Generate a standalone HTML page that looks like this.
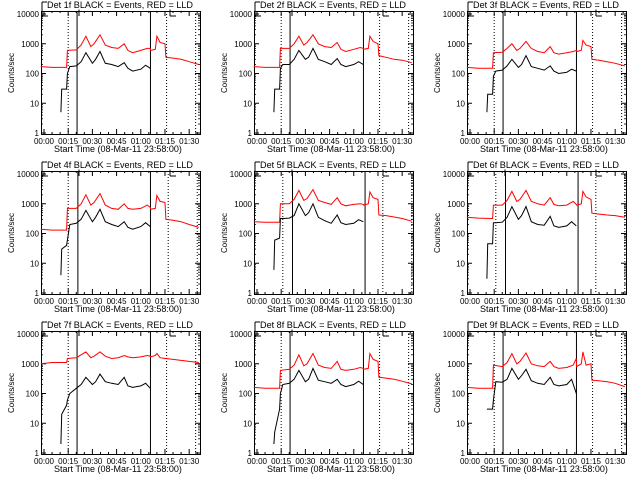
<!DOCTYPE html>
<html><head><meta charset="utf-8"><style>
html,body{margin:0;padding:0;background:#fff;}
svg{display:block;font-family:"Liberation Sans",sans-serif;}
</style></head><body>
<svg id="chart" width="640" height="480" viewBox="0 0 640 480" xmlns="http://www.w3.org/2000/svg"></svg>
<script>
const detectorNames = ["1f","2f","3f","4f","5f","6f","7f","8f","9f"];
const redTimes = [-2,5,14,14.5,20,23,26,29,31,34.7,38,42,46,49.7,52,55,60,64,65.9,66.1,69,70,72,75,75.6,80,85,90,96];
const blackTimes = [10.5,11,14,14.5,16,20,23,26,30,32,34.7,38,42,46,49.7,52,55,60,63,65.9];
const redValues = [
 [170,160,160,600,620,900,1800,800,1000,2000,900,750,700,1000,600,500,600,700,700,600,650,1800,1100,1000,350,330,300,250,200],
 [170,160,160,700,700,1000,1800,900,1100,2000,1000,800,750,1100,650,550,650,750,700,650,700,1800,1200,1000,400,350,300,280,230],
 [160,150,150,500,520,700,1000,600,700,1200,700,550,500,800,500,450,500,550,600,550,600,1300,900,800,300,280,250,220,180],
 [140,130,130,700,700,1000,2000,900,1100,2200,900,700,650,1000,700,650,700,900,750,650,700,1900,1200,1100,300,280,250,200,160],
 [250,240,240,1000,1000,1400,2800,1300,1500,3000,1300,1100,950,1600,1000,850,950,1000,950,900,1000,2500,1600,1400,420,400,360,320,260],
 [350,330,320,900,900,1300,2600,1200,1400,2800,1200,1000,900,1600,950,850,900,1200,950,900,1000,2600,1700,1400,480,450,420,400,350],
 [1000,1100,1100,1500,1600,2000,2500,1600,1800,2500,1800,1500,1600,1900,1700,1600,1700,1900,1800,1700,1900,2200,1600,1500,1500,1400,1300,1200,1100],
 [160,150,150,600,650,900,2000,850,1000,2200,900,750,700,1200,650,600,650,750,700,650,700,2200,1400,1200,350,330,300,260,210],
 [160,150,150,900,800,1100,2200,1000,1200,2300,1000,850,800,1200,800,700,750,900,1500,800,1000,2500,900,1000,280,270,250,220,170]
];
const blackValues = [
 [5,30,30,100,170,180,250,500,220,300,550,220,200,170,230,150,120,140,190,150],
 [5,30,30,150,200,200,300,600,300,350,700,300,250,200,320,200,170,200,250,200],
 [5,20,20,80,120,130,180,300,160,200,400,170,150,130,180,120,100,110,140,120],
 [4,30,40,60,200,220,300,600,250,350,650,250,200,170,250,160,140,170,230,170],
 [6,60,70,320,320,330,400,1000,400,500,1000,350,270,220,420,230,200,220,290,250],
 [3,45,45,230,230,240,350,800,300,400,800,250,200,190,380,180,160,180,250,180],
 [2,20,40,60,100,150,200,350,200,250,450,250,220,200,350,180,160,180,220,150],
 [2,5,30,100,200,220,300,600,250,300,700,280,250,220,300,200,170,200,260,200],
 [30,30,30,60,250,240,300,700,300,400,650,270,220,200,350,200,180,200,300,100]
];
const dottedLines = [[15,76,94],[15,76,94],[15,76,94],[15,77,95],[16,78,96],[16,78,96],[15,76,94],[15,76,94],[15,76,94]];
const solidLines = [[20.5,66],[20.5,66],[20.5,66],[21,66],[22,67],[22,67],[20.5,66],[20.5,66],[20.5,66]];
const yTickValues = [1,10,100,1000,10000];
const yTickLabels = ["1","10","100","1000","10000"];
const xTickMinutes = [0,15,30,45,60,75,90];
const xTickLabels = ["00:00","00:15","00:30","00:45","01:00","01:15","01:30"];

const NS = "http://www.w3.org/2000/svg";
const svg = document.getElementById("chart");
function mk(tag, attrs, parent){const e=document.createElementNS(NS,tag);for(const k in attrs)e.setAttribute(k,attrs[k]);(parent||svg).appendChild(e);return e;}

detectorNames.forEach((det, p) => {
  const ox = (p%3)*213, oy = Math.floor(p/3)*160;
  const L=ox+41, R=ox+200, T=oy+11, B=oy+134;
  const xs = t => ox + 44 + t*1.613;
  const ys = v => oy + 133 - Math.log10(v)*29.75;
  const g = mk("g", {});
  
  

  const box = mk("rect",{x:L+0.5,y:T+0.5,width:R-L,height:B-T,fill:"none",stroke:"#000","stroke-width":1},g);
  
  

  for(let d=0; d<4; d++){
    for(let m=2;m<10;m++){
      const y=ys(m*Math.pow(10,d));
      mk("line",{x1:L,x2:L+2,y1:y,y2:y,stroke:"#000","stroke-width":0.8},g);
      mk("line",{x1:R,x2:R-2,y1:y,y2:y,stroke:"#000","stroke-width":0.8},g);
    }
  }
  yTickValues.forEach((v,i)=>{
    const y=ys(v);
    mk("line",{x1:L,x2:L+5,y1:y,y2:y,stroke:"#000"},g);
    mk("line",{x1:R,x2:R-5,y1:y,y2:y,stroke:"#000"},g);
    const t=mk("text",{x:L-2,y:y+3,"font-size":8,"text-anchor":"end"},g);
    t.textContent=yTickLabels[i];
    
    
  });
  for(let m=0; m<=95; m+=5){
    const x=xs(m); const major = m%15===0;
    mk("line",{x1:x,x2:x,y1:B,y2:B-(major?5:2),stroke:"#000"},g);
    mk("line",{x1:x,x2:x,y1:T,y2:T+(major?5:2),stroke:"#000"},g);
  }
  xTickMinutes.forEach((m,i)=>{
    const t=mk("text",{x:xs(m),y:B+10,"font-size":8,"text-anchor":"middle"},g);
    t.textContent=xTickLabels[i];
    
    
  });
  const xt=mk("text",{x:ox+118,y:B+18,"font-size":9,"text-anchor":"middle"},g);
  xt.textContent="Start Time (08-Mar-11 23:58:00)";
  
  
  const yt=mk("text",{x:ox+14,y:oy+73,"font-size":8,"text-anchor":"middle",transform:`rotate(-90 ${ox+14} ${oy+73})`},g);
  yt.textContent="Counts/sec";
  
  
  // bracket marks
  mk("line",{x1:ox+42,x2:ox+42,y1:oy+2,y2:oy+16,stroke:"#000"},g);
  mk("line",{x1:ox+42,x2:ox+47,y1:oy+2,y2:oy+2,stroke:"#000"},g);
  mk("line",{x1:ox+42,x2:ox+48,y1:oy+16,y2:oy+16,stroke:"#000"},g);
  mk("line",{x1:ox+79,x2:ox+79,y1:oy+2,y2:oy+16,stroke:"#000"},g);
  mk("line",{x1:ox+170,x2:ox+170,y1:oy+2,y2:oy+16,stroke:"#000"},g);
  mk("line",{x1:ox+170,x2:ox+176,y1:oy+16,y2:oy+16,stroke:"#000"},g);
  mk("line",{x1:ox+170,x2:ox+176,y1:oy+2,y2:oy+2,stroke:"#000"},g);
  const bg=mk("rect",{x:ox+47,y:oy,width:146,height:9.5,fill:"#fff"},g);
  const tt=mk("text",{x:ox+120,y:oy+8,"font-size":9,"text-anchor":"middle",textLength:146,lengthAdjust:"spacingAndGlyphs"},g);
  tt.textContent="Det "+det+" BLACK = Events, RED = LLD";
  
  

  dottedLines[p].forEach(m=>{
    const l=mk("line",{x1:xs(m),x2:xs(m),y1:T,y2:B,stroke:"#000","stroke-dasharray":"1,2"},g);
    
    
  });
  solidLines[p].forEach(m=>{
    const l=mk("line",{x1:xs(m),x2:xs(m),y1:T,y2:B,stroke:"#000"},g);
    
    
  });

  const red=mk("polyline",{points:redTimes.map((t,i)=>xs(t).toFixed(1)+","+ys(redValues[p][i]).toFixed(1)).join(" "),fill:"none",stroke:"#ff0000","stroke-width":1},g);
  
  
  const blk=mk("polyline",{points:blackTimes.map((t,i)=>xs(t).toFixed(1)+","+ys(blackValues[p][i]).toFixed(1)).join(" "),fill:"none",stroke:"#000","stroke-width":1},g);
  
  
});
</script>
</body></html>
